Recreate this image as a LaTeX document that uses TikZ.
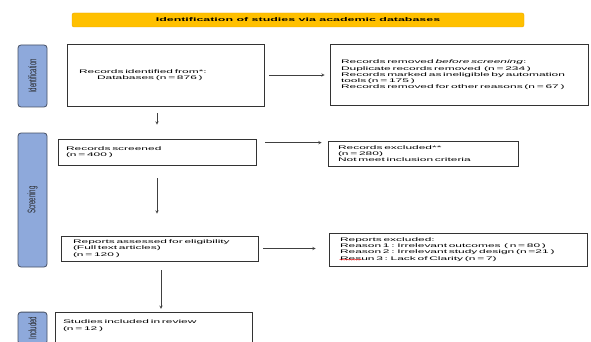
\documentclass[tikz,border=0pt]{standalone}
\usepackage{fontspec}
\setmainfont{Liberation Sans}[FakeStretch=2.3]
\newfontfamily\stagefont{Liberation Sans}[FakeStretch=0.55]
\usepackage{tikz}
\usetikzlibrary{decorations.pathmorphing}
\definecolor{stageblue}{RGB}{142 169 219}
\definecolor{stageedge}{RGB}{ 70  80 100}
\definecolor{titleyellow}{RGB}{255 192   0}
\definecolor{titleedge}{RGB}{232 165   0}
\tikzstyle{titlebar} = [rectangle, rounded corners=2pt, minimum width=452pt, minimum height=14pt, inner sep=0pt, draw=titleedge, fill=titleyellow, font=\fontsize{5.4}{6}\selectfont\bfseries]
\tikzstyle{stage} = [rectangle, rounded corners=3pt, minimum width=29pt, inner sep=0pt, draw=stageedge, line width=0.8pt, fill=stageblue, text=black!85, font=\stagefont\fontsize{11}{12}\selectfont]
\tikzstyle{process} = [rectangle, draw=black!80, line width=0.7pt, inner ysep=0pt, align=left, font=\fontsize{5.2}{6.3}\selectfont]
\tikzstyle{arrow} = [black!75, line width=0.5pt, ->, >=stealth]

\begin{document}
\begin{tikzpicture}[x=1pt, y=-1pt]
        \clip (0,0) rectangle (591,342);
        \fill [white] (0,0) rectangle (591,342);
        \node (title) [titlebar] at (298,20) {Identification of studies via academic databases};
        \node (rec) [process, node distance=55pt, below of=title, xshift=-132.5pt, minimum width=197pt, minimum height=62pt, inner xsep=12pt, text width=173pt] {Records identified from*:\\\hspace*{18pt}Databases (n = 876 )};
        \node (removed) [process, node distance=293.5pt, right of=rec, minimum width=258pt, minimum height=61pt, inner xsep=11pt, text width=236pt] {Records removed \textit{before screening}:\\Duplicate records removed~ (n = 234 )\\Records marked as ineligible by automation\\tools (n = 175 )\\Records removed for other reasons (n = 67 )};
        \node (screened) [process, node distance=77pt, below of=rec, xshift=-8.5pt, minimum width=198pt, minimum height=26pt, inner xsep=8pt, text width=182pt] {Records screened\\(n = 400 )};
        \node (excluded) [process, node distance=266pt, right of=screened, yshift=-1.5pt, minimum width=190pt, minimum height=25pt, inner xsep=10pt, text width=170pt] {Records excluded**\\(n = 280)\\Not meet inclusion criteria};
        \node (assessed) [process, node distance=96.5pt, below of=screened, xshift=2.5pt, minimum width=197pt, minimum height=25pt, inner xsep=12pt, text width=173pt] {Reports assessed for eligibility\\(Full text articles)\\(n = 120 )};
        \node (reports) [process, node distance=298.5pt, right of=assessed, yshift=-1pt, minimum width=258pt, minimum height=33pt, inner xsep=11pt, text width=236pt] {Reports excluded:\\Reason 1 : Irrelevant outcomes~ ( n = 80 )\\Reason 2 : Irrelevant study design (n =21 )\\Resun 3 : Lack of Clarity (n = 7)};
        \node (included) [process, node distance=93.6pt, below of=assessed, xshift=-6pt, minimum width=197pt, inner xsep=8pt, inner ysep=8pt, text width=181pt, text depth=40pt] {Studies included in review\\(n = 12 )};
        \node (ident) [stage, node distance=133pt, left of=rec, yshift=-1pt, minimum height=62pt] {\rotatebox{90}{Identification}};
        \node (screen) [stage, node distance=124.5pt, left of=screened, yshift=-48pt, minimum height=134pt] {\rotatebox{90}{Screening}};
        \node (incl) [stage, node distance=121pt, left of=included, yshift=14pt, minimum height=32pt] {\rotatebox{90}{Included}};
        \draw [arrow, shorten <=5pt, shorten >=5pt] (rec.east) -- (rec.east -| removed.west);
        \draw [arrow, shorten <=7pt, shorten >=14pt] (rec.south -| screened.north) -- (screened.north);
        \draw [arrow, shorten <=9pt, shorten >=6pt] ([yshift=-4pt]screened.north east) -- ([yshift=-4pt]screened.north east -| excluded.west);
        \draw [arrow, shorten <=13pt, shorten >=22pt] (screened.south) -- (screened.south |- assessed.north);
        \draw [arrow, shorten <=5pt, shorten >=13pt] (assessed.east) -- (assessed.east -| reports.west);
        \draw [arrow, shorten <=9pt, shorten >=3pt] ([xshift=1.5pt]assessed.south) -- ([xshift=1.5pt]assessed.south |- included.north);
        \draw [red!85, line width=0.4pt, decorate, decoration={snake, amplitude=0.5pt, segment length=2.5pt}] ([shift={(11pt,-27pt)}]reports.north west) -- ++(22,0);
    \end{tikzpicture}
\end{document}
